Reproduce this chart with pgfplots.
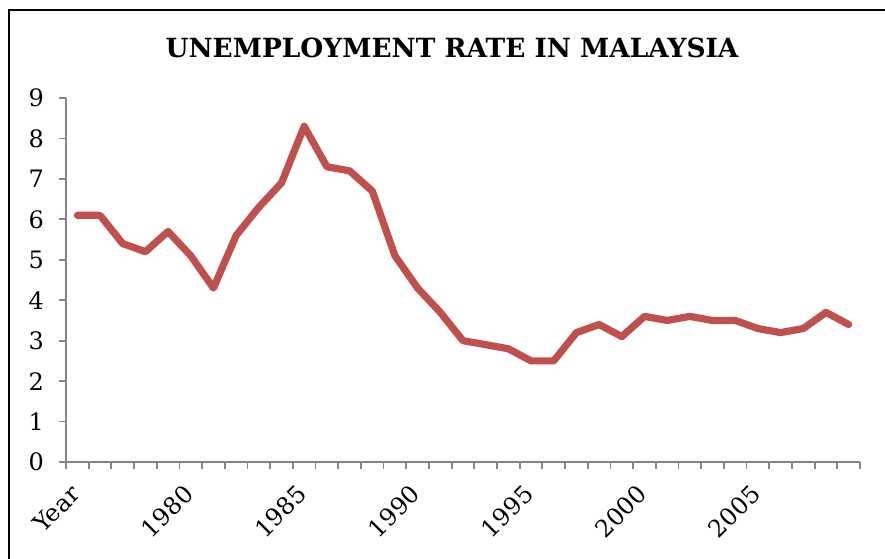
\documentclass[border=0pt]{standalone}
\usepackage{pgfplots}
\pgfplotsset{compat=1.18}
\usepackage{fontspec}
\setmainfont{DejaVu Serif}
\definecolor{exred}{HTML}{C0504D}
\definecolor{axgray}{HTML}{868686}
\begin{document}
\begin{tikzpicture}
\useasboundingbox (0,0) rectangle (442.5pt,279pt);
\draw[line width=1pt] (4.25pt,-2pt) -- (4.25pt,274pt) -- (445pt,274pt);
\node[font=\bfseries\fontsize{13.2}{15}\selectfont] at (226pt,255pt) {UNEMPLOYMENT RATE IN MALAYSIA};
\begin{axis}[
  at={(33pt,48pt)}, anchor=south west,
  scale only axis, width=397pt, height=182pt,
  xmin=-0.5, xmax=34.5, ymin=0, ymax=9,
  axis x line*=bottom, axis y line*=left,
  axis line style={axgray, line width=0.9pt, -},
  xtick={0,5,10,15,20,25,30},
  xticklabels={Year,1980,1985,1990,1995,2000,2005},
  minor xtick={-0.5,0.5,...,34.5},
  ytick={0,1,...,9},
  major tick length=3.5pt,
  minor tick length=3.5pt,
  tick style={axgray, line width=0.9pt},
  major x tick style={draw=none},
  tick align=outside,
  /pgf/number format/assume math mode=true,
  ticklabel style={font=\fontsize{12}{14}\selectfont},
  xticklabel style={rotate=45, anchor=north east, inner sep=1pt, xshift=-6.9pt, yshift=-0.9pt},
  yticklabel style={xshift=-4pt},
  clip=false,
]
\addplot[exred, line width=3.6pt, line join=round, line cap=round] coordinates {
(0,6.1) (1,6.1) (2,5.4) (3,5.2) (4,5.7) (5,5.1) (6,4.3) (7,5.6) (8,6.3) (9,6.9)
(10,8.3) (11,7.3) (12,7.2) (13,6.7) (14,5.1) (15,4.3) (16,3.7) (17,3.0) (18,2.9) (19,2.8)
(20,2.5) (21,2.5) (22,3.2) (23,3.4) (24,3.1) (25,3.6) (26,3.5) (27,3.6) (28,3.5) (29,3.5)
(30,3.3) (31,3.2) (32,3.3) (33,3.7) (34,3.4)
};
\end{axis}
\end{tikzpicture}
\end{document}
